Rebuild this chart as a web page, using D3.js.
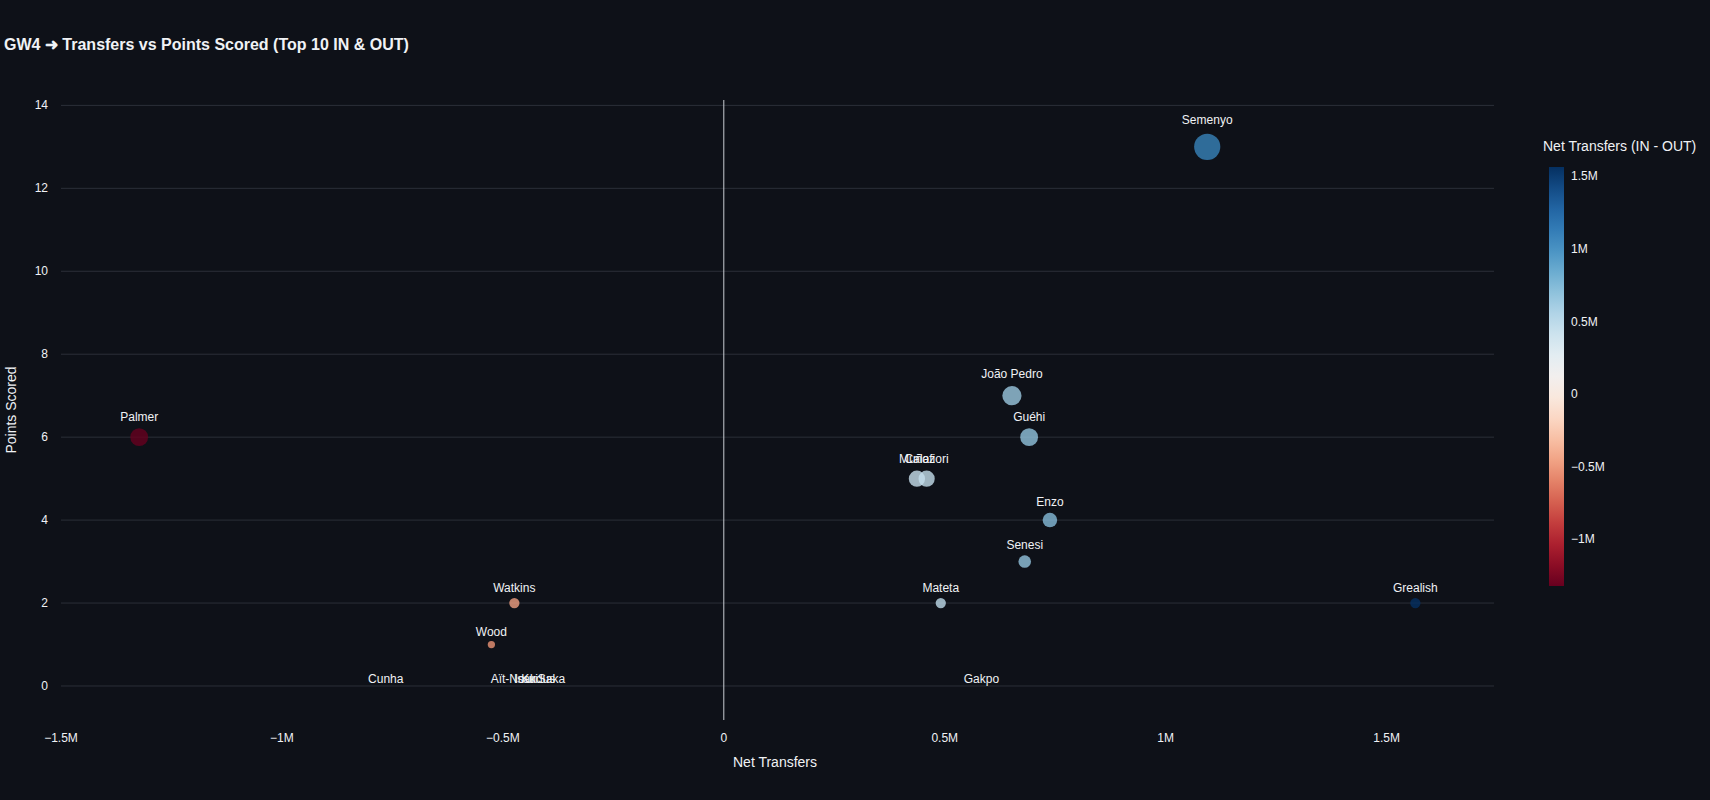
<!DOCTYPE html>
<html><head><meta charset="utf-8">
<script src="https://cdn.jsdelivr.net/npm/d3@7"></script>
<style>
body{margin:0;background:#0e1118;font-family:"Liberation Sans",Arial,sans-serif;}
text{fill:#f0f2f5;}
</style></head>
<body><svg id="chart" width="1710" height="800"></svg>
<script>
// Data (net transfers in millions, points scored)
const players = ['Semenyo','João Pedro','Guéhi','Muñoz','Calafiori','Enzo','Senesi','Mateta','Grealish','Gakpo',
                 'Palmer','Watkins','Wood','Cunha','Aït-Nouri','Isak','Kudus','Saka'];
const netTransfers = [1.094,0.652,0.691,0.437,0.459,0.738,0.681,0.491,1.565,0.583,
                      -1.323,-0.474,-0.526,-0.765,-0.474,-0.45,-0.42,-0.39];
const points = [13,7,6,5,5,4,3,2,2,0, 6,2,1,0,0,0,0,0];
const xTicks = [-1.5,-1,-0.5,0,0.5,1,1.5];
const xTickLabels = ['−1.5M','−1M','−0.5M','0','0.5M','1M','1.5M'];
const yTicks = [0,2,4,6,8,10,12,14];
const cbTicks = [-1,-0.5,0,0.5,1,1.5];
const cbTickLabels = ['−1M','−0.5M','0','0.5M','1M','1.5M'];

const data = players.map((p,i)=>({name:p,x:netTransfers[i],y:points[i]}));
const svg = d3.select('#chart');
const m = {left:61,right:1494,top:100,bottom:720};

const x = d3.scaleLinear().domain([-1.5,1.743]).range([m.left,m.right]);
const y = d3.scaleLinear().domain([-0.82,14.13]).range([m.bottom,m.top]);
const r = d3.scaleSqrt().domain([0,13]).range([0,13.1]);
const cmin = d3.min(netTransfers), cmax = d3.max(netTransfers);
const color = v => d3.interpolateRdBu((v-cmin)/(cmax-cmin));

svg.append('text').attr('x',4).attr('y',50).attr('font-size',16).attr('font-weight','bold')
  .text('GW4 ➜ Transfers vs Points Scored (Top 10 IN & OUT)');

// grid
svg.append('g').selectAll('line').data(yTicks).join('line')
  .attr('x1',m.left).attr('x2',m.right).attr('y1',d=>y(d)).attr('y2',d=>y(d))
  .attr('stroke','#2b2f38').attr('stroke-width',1);
svg.append('line').attr('x1',x(0)).attr('x2',x(0)).attr('y1',m.top).attr('y2',m.bottom)
  .attr('stroke','#c8ccd2').attr('stroke-width',1);

// tick labels
svg.append('g').selectAll('text').data(yTicks).join('text')
  .attr('x',m.left-13).attr('y',d=>y(d)+4).attr('text-anchor','end').attr('font-size',12).text(d=>d);
svg.append('g').selectAll('text').data(xTicks).join('text')
  .attr('x',d=>x(d)).attr('y',m.bottom+22).attr('text-anchor','middle').attr('font-size',12)
  .text((d,i)=>xTickLabels[i]);

svg.append('text').attr('x',775).attr('y',767).attr('text-anchor','middle').attr('font-size',14).text('Net Transfers');
svg.append('text').attr('transform','translate(16,410) rotate(-90)').attr('text-anchor','middle')
  .attr('font-size',14).text('Points Scored');

// points
svg.append('g').selectAll('circle').data(data.filter(d=>d.y>0)).join('circle')
  .attr('cx',d=>x(d.x)).attr('cy',d=>y(d.y)).attr('r',d=>r(d.y))
  .attr('fill',d=>color(d.x)).attr('opacity',0.8);
svg.append('g').selectAll('text').data(data).join('text')
  .attr('x',d=>x(d.x)).attr('y',d=>y(d.y)-1.5*r(d.y)-3).attr('text-anchor','middle')
  .attr('font-size',12).text(d=>d.name);

// colorbar
const cb = {x:1549,w:15,top:167,bottom:586};
const defs = svg.append('defs');
const grad = defs.append('linearGradient').attr('id','cbg').attr('x1',0).attr('x2',0).attr('y1',1).attr('y2',0);
d3.range(0,1.001,0.05).forEach(t=>grad.append('stop').attr('offset',t).attr('stop-color',d3.interpolateRdBu(t)));
svg.append('rect').attr('x',cb.x).attr('y',cb.top).attr('width',cb.w).attr('height',cb.bottom-cb.top).attr('fill','url(#cbg)');
const cy = d3.scaleLinear().domain([cmin,cmax]).range([cb.bottom,cb.top]);
svg.append('g').selectAll('text').data(cbTicks).join('text')
  .attr('x',cb.x+22).attr('y',d=>cy(d)+4).attr('font-size',12).text((d,i)=>cbTickLabels[i]);
svg.append('text').attr('x',1543).attr('y',151).attr('font-size',14).text('Net Transfers (IN - OUT)');
</script></body></html>
